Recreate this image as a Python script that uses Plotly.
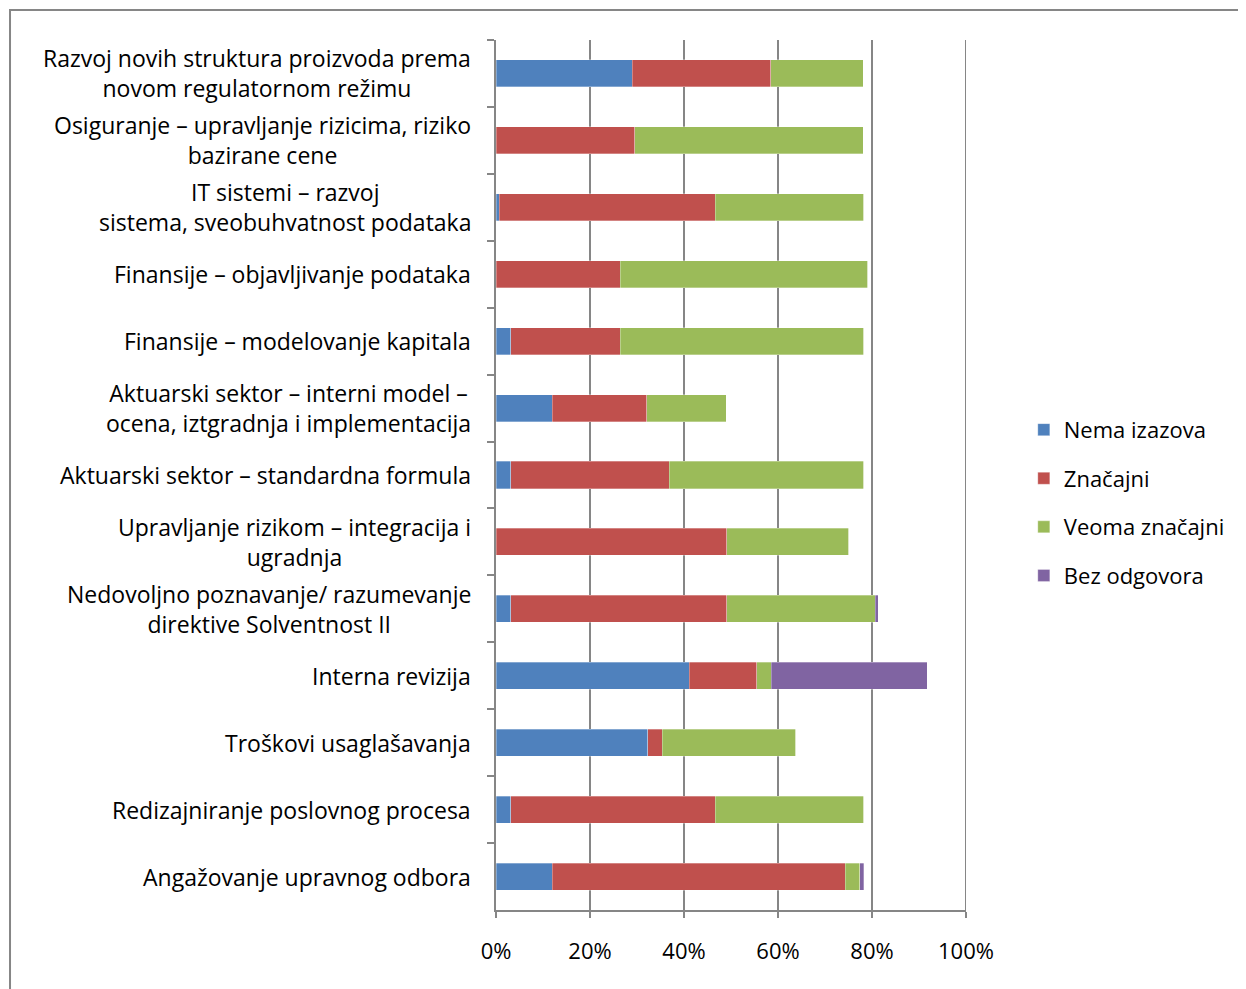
import plotly.graph_objects as go

categories = [
    "Razvoj novih struktura proizvoda prema<br>novom regulatornom režimu",
    "Osiguranje – upravljanje rizicima, riziko<br>bazirane cene",
    "IT sistemi – razvoj<br>sistema, sveobuhvatnost podataka",
    "Finansije – objavljivanje podataka",
    "Finansije – modelovanje kapitala",
    "Aktuarski sektor – interni model –<br>ocena, iztgradnja i implementacija",
    "Aktuarski sektor – standardna formula",
    "Upravljanje rizikom – integracija i<br>ugradnja",
    "Nedovoljno poznavanje/ razumevanje<br>direktive Solventnost II",
    "Interna revizija",
    "Troškovi usaglašavanja",
    "Redizajniranje poslovnog procesa",
    "Angažovanje upravnog odbora",
]

nema_izazova = [29.0, 0.0, 0.7, 0.0, 3.1, 12.0, 3.1, 0.0, 3.1, 41.1, 32.3, 3.1, 12.0]
znacajni = [29.5, 29.5, 45.9, 26.4, 23.3, 20.1, 33.8, 49.1, 46.0, 14.4, 3.1, 43.5, 62.3]
veoma_znacajni = [19.6, 48.6, 31.6, 52.7, 51.8, 16.9, 41.3, 25.9, 31.6, 3.1, 28.4, 31.6, 3.1]
bez_odgovora = [0.0, 0.0, 0.0, 0.0, 0.0, 0.0, 0.0, 0.0, 0.6, 33.2, 0.0, 0.0, 0.8]

series = [
    ("Nema izazova", nema_izazova, "#4F81BD"),
    ("Značajni", znacajni, "#C0504D"),
    ("Veoma značajni", veoma_znacajni, "#9BBB59"),
    ("Bez odgovora", bez_odgovora, "#8064A2"),
]

x_ticks = [0, 20, 40, 60, 80, 100]

FONT = "Open Sans"
GRID = "#868686"

fig = go.Figure()
for name, vals, color in series:
    fig.add_trace(go.Bar(
        y=categories, x=vals, name=name, orientation="h",
        marker=dict(color=color, line=dict(color="rgba(255,255,255,0.6)", width=0.5)),
        legendgroup=name,
    ))

for cat in categories:
    fig.add_annotation(
        x=-0.05, xref="paper", y=cat, yref="y",
        text=cat, showarrow=False, xanchor="right", yanchor="middle",
        align="center", font=dict(family=FONT, size=23, color="#000000"),
    )

fig.update_layout(
    width=1238, height=981,
    barmode="stack", bargap=0.596,
    paper_bgcolor="white", plot_bgcolor="white",
    margin=dict(l=488, r=280, t=32, b=79),
    font=dict(family=FONT, size=22, color="#000000"),
    legend=dict(
        x=1.123, xanchor="left", y=0.468, yanchor="middle",
        traceorder="grouped", tracegroupgap=17,
        font=dict(family=FONT, size=22, color="#000000"),
        itemwidth=30,
    ),
    xaxis=dict(
        range=[0, 100], tickvals=x_ticks, ticktext=[f"{v}%" for v in x_ticks],
        showgrid=True, gridcolor=GRID, gridwidth=2,
        showline=True, linecolor=GRID, linewidth=2,
        ticks="outside", ticklen=6, tickcolor=GRID, tickwidth=2,
        ticklabelstandoff=15,
        zeroline=False, fixedrange=True,
        tickfont=dict(family=FONT, size=22),
    ),
    yaxis=dict(
        categoryorder="array", categoryarray=categories,
        autorange="reversed",
        showticklabels=False,
        showline=True, linecolor=GRID, linewidth=2,
        ticks="outside", ticklen=7, tickcolor=GRID, tickwidth=2,
        tickson="boundaries",
        showgrid=False, zeroline=False,
    ),
    shapes=[
        dict(
            type="rect", xref="paper", yref="paper",
            x0=-1.034, x1=1.62, y0=-0.095, y1=1.0345,
            line=dict(color=GRID, width=2), fillcolor="rgba(0,0,0,0)", layer="below",
        ),
        dict(
            type="line", xref="x", yref="paper",
            x0=x_ticks[-1], x1=x_ticks[-1], y0=0, y1=1,
            line=dict(color=GRID, width=2), layer="below",
        ),
    ],
)

fig.write_html("out.html")
